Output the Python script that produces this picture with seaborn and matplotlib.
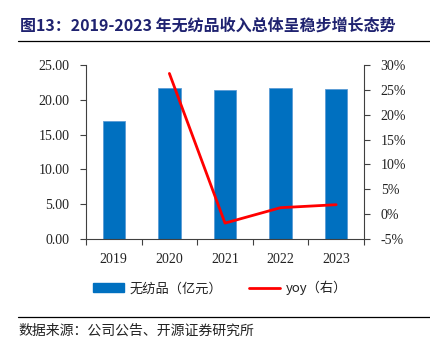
import matplotlib
matplotlib.use("Agg")
import matplotlib.pyplot as plt
import seaborn as sns
import numpy as np
import pandas as pd
from matplotlib.patches import Patch
from matplotlib.lines import Line2D
from matplotlib.ticker import FuncFormatter, MultipleLocator

years = ["2019", "2020", "2021", "2022", "2023"]
revenue = [16.95, 21.70, 21.36, 21.65, 21.60]
yoy = [np.nan, 28.3, -1.8, 1.3, 1.9]
left_ticks = [0, 5, 10, 15, 20, 25]
right_ticks = [-5, 0, 5, 10, 15, 20, 25, 30]
title = "图13：2019-2023 年无纺品收入总体呈稳步增长态势"
source = "数据来源：公司公告、开源证券研究所"
bar_label = "无纺品（亿元）"
line_label = "yoy（右）"

sns.set_theme(style="white")
plt.rcParams['font.family'] = ['serif']
plt.rcParams['font.serif'] = ['Liberation Serif', 'DejaVu Serif']

BLUE = "#0070C0"
RED = "#FF0000"
SPINE = "#404040"
CJK = ['Noto Sans CJK SC', 'DejaVu Sans']

fig = plt.figure(figsize=(4.31, 3.43), dpi=100)
ax = fig.add_axes([0.1995, 0.3032, 0.645, 0.5073])

df = pd.DataFrame({"year": years, "revenue": revenue, "yoy": yoy})
sns.barplot(data=df, x="year", y="revenue", order=years, color=BLUE,
            saturation=1, width=0.4, ax=ax, edgecolor="#5B9BD5", linewidth=0.6)
ax.set_ylim(0, 25)
ax.set_xlim(-0.5, len(years) - 0.5)
ax.set_yticks(left_ticks)
ax.yaxis.set_major_formatter(FuncFormatter(lambda v, p: f"{v:.2f}"))
ax.set_xlabel("")
ax.set_ylabel("")

ax2 = ax.twinx()
sns.pointplot(data=df, x="year", y="yoy", order=years, color=RED,
              markers="", linewidth=2.0, errorbar=None, ax=ax2)
ax2.set_ylim(-5, 30)
ax2.set_yticks(right_ticks)
ax2.yaxis.set_major_formatter(FuncFormatter(lambda v, p: f"{v:.0f}%"))
ax2.set_xlim(-0.5, len(years) - 0.5)
ax2.set_ylabel("")
ax2.set_xlabel("")

for a in (ax, ax2):
    for s in a.spines.values():
        s.set_color(SPINE)
        s.set_linewidth(0.8)
    a.spines["top"].set_visible(False)
ax.spines["right"].set_visible(False)
ax2.spines["left"].set_visible(False)
ax2.spines["bottom"].set_visible(False)

ax.tick_params(axis="y", direction="out", length=4, width=0.8, color=SPINE,
               labelsize=10, pad=8, left=True, labelcolor="#222222")
ax2.tick_params(axis="y", direction="out", length=4, width=0.8, color=SPINE,
                labelsize=10, pad=8, right=True, labelcolor="#222222")
ax.set_xticks(np.arange(len(years)))
ax.set_xticklabels(years)
ax.xaxis.set_minor_locator(MultipleLocator(1, offset=0.5))
ax.tick_params(axis="x", which="major", length=0, labelsize=10, pad=10,
               labelcolor="#222222")
ax.tick_params(axis="x", which="minor", direction="out", length=4, width=0.8,
               color=SPINE, bottom=True)

# Title
fig.text(20 / 431, 1 - 26 / 343, title, fontsize=11.5, fontweight="bold",
         color="#1F2270", va="center", ha="left", family=CJK)
fig.add_artist(Line2D([18 / 431, 430 / 431], [1 - 41 / 343, 1 - 41 / 343],
                      color="black", linewidth=0.9, transform=fig.transFigure))

# Legend
handles = [Patch(facecolor=BLUE, edgecolor=BLUE),
           Line2D([0], [0], color=RED, linewidth=2.0)]
leg = fig.legend(handles, [bar_label, line_label], loc="center",
                 bbox_to_anchor=(0.51, 1 - 288 / 343), ncol=2, frameon=False,
                 prop={'family': CJK, 'size': 9.5},
                 handlelength=2.4, handleheight=0.6, columnspacing=2.0,
                 handletextpad=0.4)
for t in leg.get_texts():
    t.set_color("#222222")

# Footer
fig.add_artist(Line2D([18 / 431, 430 / 431], [1 - 317 / 343, 1 - 317 / 343],
                      color="black", linewidth=0.9, transform=fig.transFigure))
fig.text(18 / 431, 1 - 331 / 343, source, fontsize=10, color="#222222",
         va="center", ha="left", family=CJK)

fig.savefig("out.png", dpi=100)
